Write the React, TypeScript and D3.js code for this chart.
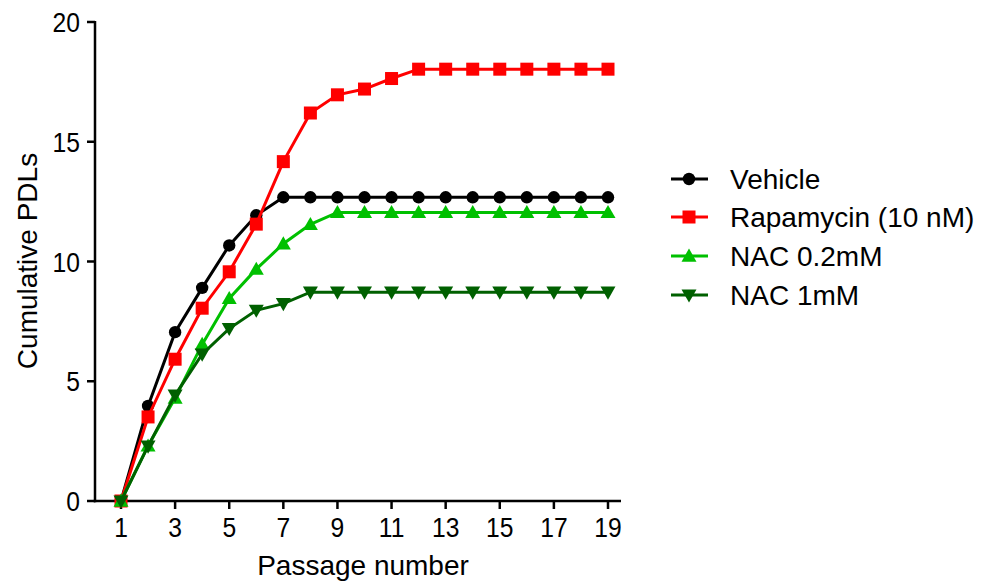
import React from "react";
import * as d3 from "d3";

const passages = d3.range(1, 20);
const vehicle = [0, 3.97, 7.05, 8.9, 10.67, 11.93, 12.68, 12.68, 12.68, 12.68, 12.68, 12.68, 12.68, 12.68, 12.68, 12.68, 12.68, 12.68, 12.68];
const rapamycin = [0, 3.51, 5.92, 8.05, 9.57, 11.56, 14.17, 16.2, 16.96, 17.2, 17.64, 18.03, 18.03, 18.03, 18.03, 18.03, 18.03, 18.03, 18.03];
const nac02 = [0, 2.3, 4.3, 6.54, 8.46, 9.68, 10.74, 11.55, 12.05, 12.05, 12.05, 12.05, 12.05, 12.05, 12.05, 12.05, 12.05, 12.05, 12.05];
const nac1 = [0, 2.29, 4.42, 6.13, 7.2, 7.96, 8.24, 8.72, 8.72, 8.72, 8.72, 8.72, 8.72, 8.72, 8.72, 8.72, 8.72, 8.72, 8.72];
const seriesNames = ["Vehicle", "Rapamycin (10 nM)", "NAC 0.2mM", "NAC 1mM"];
const seriesColors = ["#000000", "#ff0000", "#00c000", "#006000"];
const seriesShapes = ["circle", "square", "triUp", "triDown"];
const xTicks = [1, 3, 5, 7, 9, 11, 13, 15, 17, 19];
const yTicks = [0, 5, 10, 15, 20];

const FONT = "Liberation Sans, Arial, sans-serif";

function Marker({ shape, x, y, color }: { shape: string; x: number; y: number; color: string }) {
  if (shape === "circle") return <circle cx={x} cy={y} r={6.2} fill={color} />;
  if (shape === "square") return <rect x={x - 6.5} y={y - 6.5} width={13} height={13} fill={color} />;
  const s = 7.5;
  if (shape === "triUp")
    return <path d={`M${x},${y - s}L${x + s},${y + s * 0.75}L${x - s},${y + s * 0.75}Z`} fill={color} />;
  return <path d={`M${x},${y + s}L${x + s},${y - s * 0.75}L${x - s},${y - s * 0.75}Z`} fill={color} />;
}

function TickText({ x, y, anchor, children }: { x: number; y: number; anchor: string; children: React.ReactNode }) {
  return (
    <text
      transform={`translate(${x},${y}) scale(0.88,1)`}
      textAnchor={anchor}
      fontFamily={FONT}
      fontSize={28}
    >
      {children}
    </text>
  );
}

export default function App() {
  const x = d3.scaleLinear().domain([1, 19]).range([121, 608]);
  const y = d3.scaleLinear().domain([0, 20]).range([501, 22]);
  const x0 = 95;
  const x1 = 621;
  const data = [vehicle, rapamycin, nac02, nac1];
  const line = d3
    .line<number>()
    .x((_, i) => x(passages[i]))
    .y((d) => y(d));

  const legendY = [179, 217, 256, 295];

  return (
    <svg width={986} height={583} style={{ position: "absolute", left: 0, top: 0, background: "#fff" }}>
      <rect width={986} height={583} fill="#fff" />
      {/* axes */}
      <line x1={x0} x2={x0} y1={y(20) - 1} y2={y(0) + 1.25} stroke="#000" strokeWidth={2.5} />
      <line x1={x0 - 1.25} x2={x1} y1={y(0)} y2={y(0)} stroke="#000" strokeWidth={2.5} />
      {yTicks.map((t) => (
        <g key={t}>
          <line x1={x0 - 8} x2={x0} y1={y(t)} y2={y(t)} stroke="#000" strokeWidth={2.5} />
          <TickText x={x0 - 15} y={y(t) + 10} anchor="end">
            {t}
          </TickText>
        </g>
      ))}
      {xTicks.map((t) => (
        <g key={t}>
          <line x1={x(t)} x2={x(t)} y1={y(0)} y2={y(0) + 8} stroke="#000" strokeWidth={2.5} />
          <TickText x={x(t)} y={537} anchor="middle">
            {t}
          </TickText>
        </g>
      ))}
      <text x={363} y={575} textAnchor="middle" fontFamily={FONT} fontSize={28}>
        Passage number
      </text>
      <text
        transform={`translate(37,261) rotate(-90)`}
        textAnchor="middle"
        fontFamily={FONT}
        fontSize={28}
      >
        Cumulative PDLs
      </text>
      {/* series */}
      {data.map((d, si) => (
        <g key={si}>
          <path d={line(d) || ""} fill="none" stroke={seriesColors[si]} strokeWidth={3} />
          {d.map((v, i) => (
            <Marker key={i} shape={seriesShapes[si]} x={x(passages[i])} y={y(v)} color={seriesColors[si]} />
          ))}
        </g>
      ))}
      {/* legend */}
      {seriesNames.map((n, i) => (
        <g key={n}>
          <line x1={671} x2={708} y1={legendY[i]} y2={legendY[i]} stroke={seriesColors[i]} strokeWidth={3} />
          <Marker shape={seriesShapes[i]} x={689} y={legendY[i]} color={seriesColors[i]} />
          <text x={730} y={legendY[i]} dy="0.36em" fontFamily={FONT} fontSize={28}>
            {n}
          </text>
        </g>
      ))}
    </svg>
  );
}
